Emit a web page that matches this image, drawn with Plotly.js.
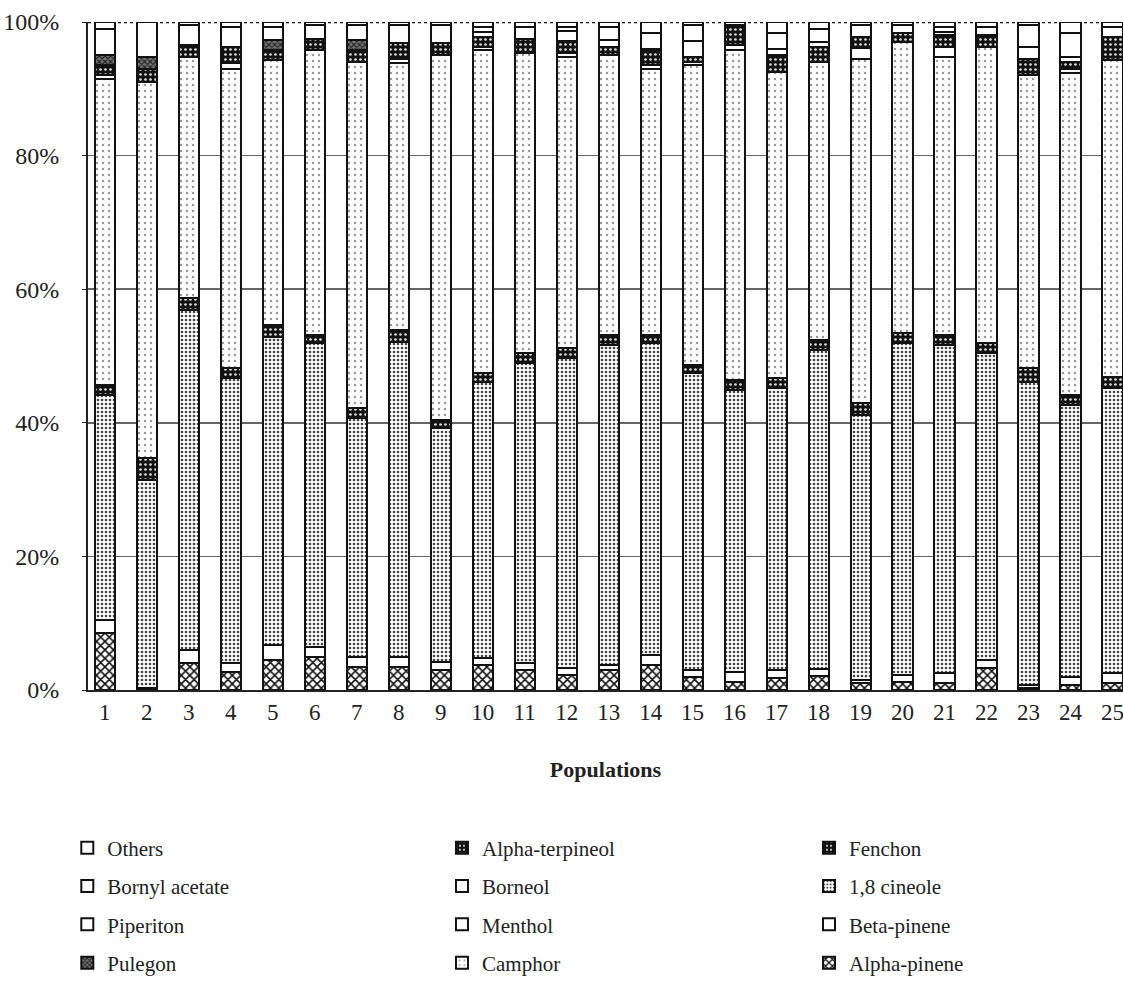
<!DOCTYPE html>
<html>
<head>
<meta charset="utf-8">
<script src="https://cdn.plot.ly/plotly-3.0.1.min.js"></script>
<style>
  html, body { margin: 0; padding: 0; background: #fff; }
  #chart { width: 1123px; height: 1002px; }
</style>
</head>
<body>
<div id="chart"></div>
<script>
// Populations (x categories)
var populations = [1,2,3,4,5,6,7,8,9,10,11,12,13,14,15,16,17,18,19,20,21,22,23,24,25];

// Series values (% of essential oil), stacked bottom -> top
var alphaPinene    = [8.5,0,4,2.7,4.5,5,3.5,3.5,3,3.7,3,2.2,3,3.7,2,1.2,1.8,2.1,1,1.2,1,3.3,0.3,0.7,1];
var betaPinene     = [2,0.3,2,1.3,2.2,1.4,1.5,1.5,1.2,1.1,1,1.1,0.7,1.5,1,1.5,1.2,1,0.5,1,1.5,1.2,0.5,1.3,1.5];
var cineole18      = [33.7,31.1,50.9,42.7,46.1,45.5,35.7,47.1,35,41.3,45,46.4,47.9,46.7,44.4,42.2,42.2,47.8,39.7,49.7,49.1,45.9,45.3,40.7,42.7];
var fenchon        = [1.5,3.3,1.8,1.5,1.8,1.2,1.5,1.8,1.2,1.4,1.4,1.5,1.5,1.2,1.2,1.5,1.5,1.5,1.8,1.5,1.5,1.5,2.1,1.5,1.7];
var camphor        = [45.8,56.3,36.1,44.8,39.7,42.7,51.8,39.9,54.7,48.3,44.9,43.6,42,39.9,44.9,49.4,45.8,41.6,51.5,43.6,41.7,44.4,43.8,48.1,47.4];
var menthol        = [0.6,0,0,0.8,0,0,0,0.7,0,0.5,0,0.5,0,0.6,0.5,0.7,0,0,0,0,0,0,0,0.7,0];
var borneol        = [0,0,0,0,0,0,0,0,0,0,0,0,0,0,0,0,0,0,1.6,0,1.5,0,0,0,0];
var alphaTerpineol = [1.5,2,1.7,2.5,1.5,1.7,1.8,2.3,1.7,1.5,2.2,1.8,1.2,2.2,0.8,3,2.5,2.3,1.7,1.3,1.7,1.7,2.5,1,3.5];
var pulegon        = [1.4,1.8,0,0,1.5,0,1.5,0,0,0,0,0,0,0,0,0,0,0,0,0,0,0,0,0,0];
var piperiton      = [0,0,0,0,0,0,0,0,0,0.7,0,1.5,1,0.2,2.4,0,1,0.7,0,0,0.5,0,1.8,0.8,0];
var bornylAcetate  = [4,0,3,3,2,2,2.2,2.7,2.7,0.8,1.8,0.7,2,2.3,2.3,0,2.3,2,1.7,1.2,0.8,1.3,3.2,3.5,1.5];
var others         = [1,5.2,0.5,0.7,0.7,0.5,0.5,0.5,0.5,0.7,0.7,0.7,0.7,1.7,0.5,0.5,1.7,1,0.5,0.5,0.7,0.7,0.5,1.7,0.7];

// Y tick values / labels
var yTicks = [0,20,40,60,80,100];
var yTickLabels = ["0%","20%","40%","60%","80%","100%"];

var serif = "Liberation Serif, Times New Roman, serif";
var outline = {color: "#111", width: 2};

function dark() {
  return {shape: ".", fgcolor: "#ddd", bgcolor: "#111", size: 5, solidity: 0.22};
}

var series = [
  {name: "Alpha-pinene",    y: alphaPinene,    legend: "legend3", pattern: {shape: "x", fgcolor: "#111", bgcolor: "#fff", size: 6, solidity: 0.45}},
  {name: "Beta-pinene",     y: betaPinene,     legend: "legend3", pattern: {shape: "", bgcolor: "#fff"}},
  {name: "1,8 cineole",     y: cineole18,      legend: "legend3", pattern: {shape: ".", fgcolor: "#444", bgcolor: "#fff", size: 4, solidity: 0.35}},
  {name: "Fenchon",         y: fenchon,        legend: "legend3", pattern: dark()},
  {name: "Camphor",         y: camphor,        legend: "legend2", pattern: {shape: ".", fgcolor: "#999", bgcolor: "#fff", size: 6, solidity: 0.14}},
  {name: "Menthol",         y: menthol,        legend: "legend2", pattern: {shape: "", bgcolor: "#fff"}},
  {name: "Borneol",         y: borneol,        legend: "legend2", pattern: {shape: "", bgcolor: "#fff"}},
  {name: "Alpha-terpineol", y: alphaTerpineol, legend: "legend2", pattern: dark()},
  {name: "Pulegon",         y: pulegon,        legend: "legend",  pattern: {shape: "x", fgcolor: "#222", bgcolor: "#777", size: 4, solidity: 0.5}},
  {name: "Piperiton",       y: piperiton,      legend: "legend",  pattern: {shape: "", bgcolor: "#fff"}},
  {name: "Bornyl acetate",  y: bornylAcetate,  legend: "legend",  pattern: {shape: "", bgcolor: "#fff"}},
  {name: "Others",          y: others,         legend: "legend",  pattern: {shape: "", bgcolor: "#fff"}}
];

var traces = series.map(function (s, i) {
  return {
    type: "bar",
    name: s.name,
    x: populations,
    y: s.y,
    legend: s.legend,
    legendgroup: "g" + i,
    legendrank: 100 - i,
    marker: {color: "#fff", line: outline, pattern: s.pattern},
    hoverinfo: "name+y"
  };
});

function legendAt(xp) {
  return {
    x: xp, y: -0.206, xanchor: "left", yanchor: "top",
    orientation: "v",
    traceorder: "grouped",
    tracegroupgap: 8,
    font: {family: serif, size: 21, color: "#222"},
    bgcolor: "rgba(0,0,0,0)",
    borderwidth: 0
  };
}

var layout = {
  width: 1123, height: 1002,
  margin: {l: 88, r: 0, t: 22, b: 312},
  paper_bgcolor: "#fff", plot_bgcolor: "#fff",
  barmode: "stack",
  bargap: 0.52,
  showlegend: true,
  xaxis: {
    type: "linear",
    range: [0.6, 25.25],
    tickmode: "array",
    tickvals: populations,
    ticktext: populations.map(String),
    ticklabeloverflow: "allow",
    showgrid: false, zeroline: false,
    showline: true, linecolor: "#222", linewidth: 2,
    ticks: "",
    tickfont: {family: serif, size: 23, color: "#222"},
    title: {text: "<b>Populations</b>", font: {family: serif, size: 22, color: "#222"}, standoff: 38}
  },
  yaxis: {
    range: [0, 100],
    tickmode: "array",
    tickvals: yTicks,
    ticktext: yTickLabels,
    showgrid: true, gridcolor: "#666", gridwidth: 1.5,
    zeroline: false,
    showline: true, linecolor: "#222", linewidth: 2,
    ticks: "outside", ticklen: 4, tickcolor: "#222",
    ticklabelstandoff: 18,
    tickfont: {family: serif, size: 24, color: "#222"}
  },
  shapes: [
    {type: "line", xref: "paper", yref: "y", x0: 0, x1: 1, y0: 100, y1: 100,
     line: {color: "#fff", width: 4}, layer: "between"},
    {type: "line", xref: "paper", yref: "y", x0: 0, x1: 1, y0: 100, y1: 100,
     line: {color: "#111", width: 2.5, dash: "dot"}, layer: "between"}
  ],
  legend: legendAt(-0.020),
  legend2: legendAt(0.342),
  legend3: legendAt(0.6966)
};

Plotly.newPlot("chart", traces, layout, {displayModeBar: false, staticPlot: true});
</script>
</body>
</html>
